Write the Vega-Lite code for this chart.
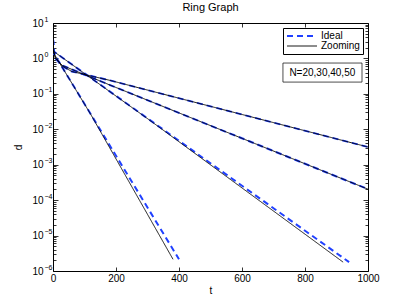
{
  "$schema": "https://vega.github.io/schema/vega-lite/v6.json",
  "autosize": {"type": "none"},
  "padding": {"left": 53, "top": 23, "right": 39, "bottom": 35},
  "width": 315,
  "height": 248,
  "title": {"text": "Ring Graph", "fontSize": 11, "fontWeight": "normal", "color": "black", "offset": 2},
  "config": {
    "font": "Liberation Sans",
    "view": {"stroke": "black", "strokeWidth": 1},
    "axis": {
      "domain": false, "grid": false, "tickColor": "black", "tickWidth": 0.8,
      "labelFontSize": 10, "labelColor": "black", "titleFontSize": 10,
      "titleFontWeight": "normal", "titleColor": "black", "labelFlush": false, "labelOverlap": false
    },
    "legend": {
      "orient": "top-right", "offset": 5, "strokeColor": "black", "fillColor": "white",
      "padding": 3, "labelFontSize": 10, "labelColor": "black", "symbolType": "stroke",
      "symbolSize": 900, "clipHeight": 10, "rowPadding": 0, "labelOffset": 3, "cornerRadius": 0
    }
  },
  "datasets": {
    "curves": [
      {"N": 20, "series": "Ideal", "t": 0, "d": 3.55},
      {"N": 20, "series": "Ideal", "t": 2, "d": 1.41},
      {"N": 20, "series": "Ideal", "t": 400, "d": 2.14e-6},
      {"N": 30, "series": "Ideal", "t": 0, "d": 3.55},
      {"N": 30, "series": "Ideal", "t": 2, "d": 1.58},
      {"N": 30, "series": "Ideal", "t": 940, "d": 1.78e-6},
      {"N": 40, "series": "Ideal", "t": 0, "d": 3.55},
      {"N": 40, "series": "Ideal", "t": 2, "d": 1.58},
      {"N": 40, "series": "Ideal", "t": 8, "d": 1.0},
      {"N": 40, "series": "Ideal", "t": 30, "d": 0.631},
      {"N": 40, "series": "Ideal", "t": 181, "d": 0.177},
      {"N": 40, "series": "Ideal", "t": 1000, "d": 2.04e-4},
      {"N": 50, "series": "Ideal", "t": 0, "d": 3.55},
      {"N": 50, "series": "Ideal", "t": 2, "d": 1.58},
      {"N": 50, "series": "Ideal", "t": 8, "d": 1.0},
      {"N": 50, "series": "Ideal", "t": 30, "d": 0.603},
      {"N": 50, "series": "Ideal", "t": 60, "d": 0.427},
      {"N": 50, "series": "Ideal", "t": 181, "d": 0.24},
      {"N": 50, "series": "Ideal", "t": 1000, "d": 3.16e-3},
      {"N": 20, "series": "Zooming", "t": 0, "d": 3.55},
      {"N": 20, "series": "Zooming", "t": 2, "d": 1.41},
      {"N": 20, "series": "Zooming", "t": 120, "d": 0.0262},
      {"N": 20, "series": "Zooming", "t": 381, "d": 2.14e-6},
      {"N": 30, "series": "Zooming", "t": 0, "d": 3.55},
      {"N": 30, "series": "Zooming", "t": 2, "d": 1.58},
      {"N": 30, "series": "Zooming", "t": 300, "d": 0.0200},
      {"N": 30, "series": "Zooming", "t": 921, "d": 1.78e-6},
      {"N": 40, "series": "Zooming", "t": 0, "d": 3.55},
      {"N": 40, "series": "Zooming", "t": 2, "d": 1.58},
      {"N": 40, "series": "Zooming", "t": 8, "d": 1.0},
      {"N": 40, "series": "Zooming", "t": 30, "d": 0.631},
      {"N": 40, "series": "Zooming", "t": 181, "d": 0.177},
      {"N": 40, "series": "Zooming", "t": 1000, "d": 2.04e-4},
      {"N": 50, "series": "Zooming", "t": 0, "d": 3.55},
      {"N": 50, "series": "Zooming", "t": 2, "d": 1.58},
      {"N": 50, "series": "Zooming", "t": 8, "d": 1.0},
      {"N": 50, "series": "Zooming", "t": 30, "d": 0.603},
      {"N": 50, "series": "Zooming", "t": 60, "d": 0.427},
      {"N": 50, "series": "Zooming", "t": 181, "d": 0.24},
      {"N": 50, "series": "Zooming", "t": 1000, "d": 3.16e-3}
    ],
    "note": [
      {"t1": 730, "t2": 981, "d1": 0.741, "d2": 0.215, "tc": 855, "dc": 0.40, "label": "N=20,30,40,50"}
    ]
  },
  "layer": [
    {
      "data": {"name": "curves"},
      "transform": [{"filter": "datum.series === 'Ideal'"}],
      "mark": {"type": "line", "clip": true},
      "encoding": {
        "x": {"field": "t", "type": "quantitative", "title": "t",
              "scale": {"domain": [0, 1000], "nice": false, "zero": false},
              "axis": {"orient": "bottom", "values": [0, 200, 400, 600, 800, 1000], "format": "d", "tickSize": -4, "labelPadding": 6, "titlePadding": 2}},
        "y": {"field": "d", "type": "quantitative", "title": "d",
              "scale": {"type": "log", "domain": [1e-6, 10], "nice": false},
              "axis": {"orient": "left",
                       "values": [1e-6,2e-6,3e-6,4e-6,5e-6,6e-6,7e-6,8e-6,9e-6,1e-5,2e-5,3e-5,4e-5,5e-5,6e-5,7e-5,8e-5,9e-5,1e-4,2e-4,3e-4,4e-4,5e-4,6e-4,7e-4,8e-4,9e-4,0.001,0.002,0.003,0.004,0.005,0.006,0.007,0.008,0.009,0.01,0.02,0.03,0.04,0.05,0.06,0.07,0.08,0.09,0.1,0.2,0.3,0.4,0.5,0.6,0.7,0.8,0.9,1,2,3,4,5,6,7,8,9,10],
                       "labelExpr": "abs(log(datum.value)/LN10 - round(log(datum.value)/LN10)) < 0.001 ? '10' : ''",
                       "tickSize": {"condition": {"test": "abs(log(datum.value)/LN10 - round(log(datum.value)/LN10)) < 0.001", "value": -5}, "value": -3},
                       "labelAlign": "right", "labelPadding": 15, "titlePadding": 8}},
        "detail": {"field": "N"},
        "color": {"field": "series", "type": "nominal", "title": null,
                  "scale": {"domain": ["Ideal", "Zooming"], "range": ["#2040ff", "#000000"]}},
        "strokeDash": {"field": "series", "type": "nominal", "title": null,
                       "scale": {"domain": ["Ideal", "Zooming"], "range": [[6, 4], [1, 0]]}},
        "strokeWidth": {"field": "series", "type": "nominal", "title": null,
                        "scale": {"domain": ["Ideal", "Zooming"], "range": [2, 0.9]}}
      }
    },
    {
      "data": {"name": "curves"},
      "transform": [{"filter": "datum.series === 'Zooming'"}],
      "mark": {"type": "line", "clip": true},
      "encoding": {
        "x": {"field": "t", "type": "quantitative", "scale": {"domain": [0, 1000], "nice": false, "zero": false}, "axis": null},
        "y": {"field": "d", "type": "quantitative", "scale": {"type": "log", "domain": [1e-6, 10], "nice": false},
              "axis": {"orient": "left", "values": [1e-6, 1e-5, 1e-4, 0.001, 0.01, 0.1, 1, 10],
                       "labelExpr": "['−6','−5','−4','−3','−2','−1','0','1'][round(log(datum.value)/LN10)+6]",
                       "ticks": false, "labelAlign": "left", "labelPadding": 9, "labelFontSize": 7,
                       "labelOffset": -4, "title": null}},
        "detail": {"field": "N"},
        "color": {"field": "series", "type": "nominal", "title": null,
                  "scale": {"domain": ["Ideal", "Zooming"], "range": ["#2040ff", "#000000"]}},
        "strokeDash": {"field": "series", "type": "nominal", "title": null,
                       "scale": {"domain": ["Ideal", "Zooming"], "range": [[6, 4], [1, 0]]}},
        "strokeWidth": {"field": "series", "type": "nominal", "title": null,
                        "scale": {"domain": ["Ideal", "Zooming"], "range": [2, 0.9]}}
      }
    },
    {
      "data": {"name": "note"},
      "mark": {"type": "rect", "fill": "white", "stroke": "black", "strokeWidth": 0.7},
      "encoding": {
        "x": {"field": "t1", "type": "quantitative", "scale": {"domain": [0, 1000], "nice": false, "zero": false},
              "axis": {"orient": "top", "values": [0, 200, 400, 600, 800, 1000], "labels": false, "tickSize": -4, "title": null}},
        "x2": {"field": "t2"},
        "y": {"field": "d1", "type": "quantitative", "scale": {"type": "log", "domain": [1e-6, 10], "nice": false},
              "axis": {"orient": "right", "labels": false, "title": null,
                       "values": [1e-6,2e-6,3e-6,4e-6,5e-6,6e-6,7e-6,8e-6,9e-6,1e-5,2e-5,3e-5,4e-5,5e-5,6e-5,7e-5,8e-5,9e-5,1e-4,2e-4,3e-4,4e-4,5e-4,6e-4,7e-4,8e-4,9e-4,0.001,0.002,0.003,0.004,0.005,0.006,0.007,0.008,0.009,0.01,0.02,0.03,0.04,0.05,0.06,0.07,0.08,0.09,0.1,0.2,0.3,0.4,0.5,0.6,0.7,0.8,0.9,1,2,3,4,5,6,7,8,9,10],
                       "tickSize": {"condition": {"test": "abs(log(datum.value)/LN10 - round(log(datum.value)/LN10)) < 0.001", "value": -5}, "value": -3}}},
        "y2": {"field": "d2"}
      }
    },
    {
      "data": {"name": "note"},
      "mark": {"type": "text", "fontSize": 10, "color": "black", "align": "center", "baseline": "middle"},
      "encoding": {
        "x": {"field": "tc", "type": "quantitative", "scale": {"domain": [0, 1000], "nice": false, "zero": false}, "axis": null},
        "y": {"field": "dc", "type": "quantitative", "scale": {"type": "log", "domain": [1e-6, 10], "nice": false}, "axis": null},
        "text": {"field": "label"}
      }
    }
  ],
  "resolve": {"axis": {"x": "independent", "y": "independent"}}
}
